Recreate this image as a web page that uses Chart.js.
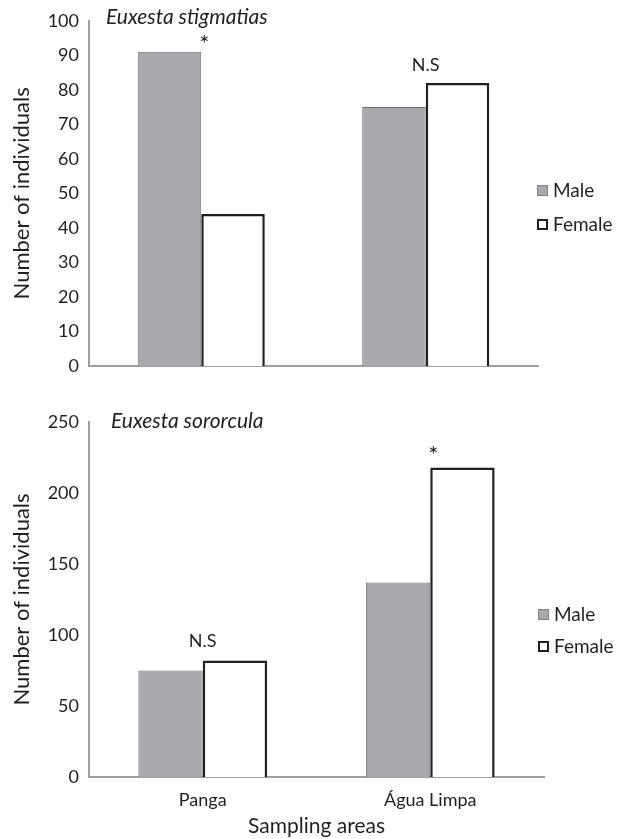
<!DOCTYPE html>
<html><head><meta charset="utf-8">
<script src="https://cdn.jsdelivr.net/npm/chart.js@4.4.1/dist/chart.umd.min.js"></script>
<style>
html,body{margin:0;padding:0;background:#fff;}
#w{position:relative;width:622px;height:839px;overflow:hidden;background:#fff;}
#c1{position:absolute;left:0;top:0;}
#c2{position:absolute;left:0;top:395px;}
</style></head><body>
<div id="w"><canvas id="c1" width="622" height="395"></canvas><canvas id="c2" width="622" height="444"></canvas></div>
<script>
const categories = ['Panga', 'Água Limpa'];
const seriesNames = ['Male', 'Female'];
const stigmatiasMale = [91, 75];
const stigmatiasFemale = [44, 82];
const sororculaMale = [75, 137];
const sororculaFemale = [82, 218];
const stigmatiasMarks = ['*', 'N.S'];
const sororculaMarks = ['N.S', '*'];
const stigmatiasTicks = [0, 10, 20, 30, 40, 50, 60, 70, 80, 90, 100];
const sororculaTicks = [0, 50, 100, 150, 200, 250];
const speciesTitles = ['Euxesta stigmatias', 'Euxesta sororcula'];
const yTitle = 'Number of individuals';
const xTitle = 'Sampling areas';

const TEXT = '#231f20';
const AXIS = '#a0a0a0';
const MALE_FILL = '#a7a9ac';
const MALE_EDGE = '#6d6e71';
const FAM = 'Lato, "Open Sans", sans-serif';

const decor = {
  id: 'decor',
  afterDraw(chart, args, o) {
    const ctx = chart.ctx;
    ctx.save();
    ctx.fillStyle = TEXT;
    ctx.font = 'italic 21px ' + FAM;
    ctx.textAlign = 'left';
    ctx.textBaseline = 'middle';
    ctx.fillText(o.title, o.titleX, o.titleY);

    ctx.textAlign = 'center';
    ctx.textBaseline = 'alphabetic';
    const m0 = chart.getDatasetMeta(0), m1 = chart.getDatasetMeta(1);
    o.marks.forEach((t, i) => {
      const b0 = m0.data[i], b1 = m1.data[i];
      const top = Math.min(b0.y, b1.y);
      const cx = (b0.x + b1.x) / 2;
      if (t === '*') {
        ctx.font = '24px ' + FAM;
        ctx.fillText(t, cx + 3, top - o.starGap);
      } else {
        ctx.font = '18px ' + FAM;
        ctx.fillText(t, cx, top - o.nsGap);
      }
    });

    // legend
    const ds = chart.data.datasets;
    ds.forEach((d, i) => {
      const y = o.legendY[i];
      const x = o.legendX;
      if (i === 0) {
        ctx.fillStyle = d.backgroundColor;
        ctx.fillRect(x, y - 6, 11, 11);
        ctx.strokeStyle = '#808080';
        ctx.lineWidth = 1;
        ctx.strokeRect(x + 0.5, y - 5.5, 10, 10);
      } else {
        ctx.fillStyle = '#fff';
        ctx.fillRect(x, y - 6, 11, 11);
        ctx.strokeStyle = d.borderColor;
        ctx.lineWidth = 2;
        ctx.strokeRect(x + 1, y - 5, 9, 9);
      }
      ctx.fillStyle = TEXT;
      ctx.font = '19px ' + FAM;
      ctx.textAlign = 'left';
      ctx.textBaseline = 'middle';
      ctx.fillText(d.label, x + 16, y);
    });
    ctx.restore();
  }
};

function makeChart(id, male, female, ticks, cfg) {
  return new Chart(document.getElementById(id), {
    type: 'bar',
    data: {
      labels: categories,
      datasets: [
        { label: seriesNames[0], data: male, backgroundColor: MALE_FILL, borderColor: MALE_EDGE, borderWidth: 1 },
        { label: seriesNames[1], data: female, backgroundColor: '#ffffff', borderColor: TEXT, borderWidth: 2.5 }
      ]
    },
    options: {
      responsive: false,
      animation: false,
      devicePixelRatio: 1,
      layout: { padding: { left: 0, right: cfg.padRight, top: cfg.padTop, bottom: cfg.padBottom } },
      datasets: { bar: { categoryPercentage: 0.566, barPercentage: 1 } },
      plugins: {
        legend: { display: false },
        tooltip: { enabled: false },
        decor: cfg.decor
      },
      scales: {
        x: {
          grid: { display: false, drawTicks: false },
          border: { color: AXIS, width: 2 },
          ticks: { display: cfg.showX, color: TEXT, font: { family: FAM, size: 18 }, padding: 12 },
          title: { display: cfg.showX, text: xTitle, color: TEXT, font: { family: FAM, size: 21 }, padding: 0 },
          afterFit(s) { s.height = cfg.xHeight; }
        },
        y: {
          min: ticks[0],
          max: ticks[ticks.length - 1],
          grid: { display: false, drawTicks: false },
          border: { color: AXIS, width: 2 },
          ticks: { stepSize: ticks[1] - ticks[0], color: TEXT, font: { family: FAM, size: 18 }, padding: 10 },
          title: { display: true, text: yTitle, color: TEXT, font: { family: FAM, size: 22 }, padding: { top: 9, bottom: 0 } },
          afterFit(s) { s.width = 89; }
        }
      }
    },
    plugins: [decor]
  });
}

makeChart('c1', stigmatiasMale, stigmatiasFemale, stigmatiasTicks, {
  padRight: 84, padTop: 18, padBottom: 25, xHeight: 4, showX: false,
  decor: { title: speciesTitles[0], titleX: 106, titleY: 17, marks: stigmatiasMarks, starGap: 0, nsGap: 12,
           legendX: 537, legendY: [191, 225] }
});
makeChart('c2', sororculaMale, sororculaFemale, sororculaTicks, {
  padRight: 78, padTop: 27, padBottom: 0, xHeight: 62, showX: true,
  decor: { title: speciesTitles[1], titleX: 111, titleY: 26, marks: sororculaMarks, starGap: 4, nsGap: 14,
           legendX: 538, legendY: [220, 252] }
});
</script>
</body></html>
